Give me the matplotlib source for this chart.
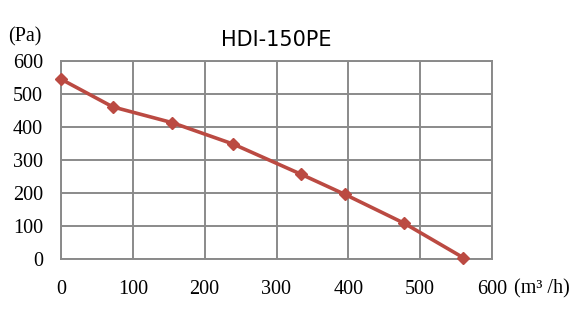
import matplotlib.pyplot as plt

# airflow (m3/h) vs static pressure (Pa)
flow = [0, 72, 155, 240, 334, 395, 478, 560]
pressure = [545, 461, 413, 348, 257, 196, 108, 4]
ticks = [0, 100, 200, 300, 400, 500, 600]

fig = plt.figure(figsize=(5.8, 3.2), dpi=100)
ax = fig.add_axes([61 / 580, 1 - 259 / 320, 431 / 580, 198 / 320])

ax.plot(flow, pressure, color='#BB4A42', lw=2.6, marker='D', ms=6.5,
        markeredgecolor='#BB4A42', zorder=3, clip_on=False)

ax.set_xlim(0, 600)
ax.set_ylim(0, 600)
ax.set_xticks(ticks)
ax.set_yticks(ticks)
ax.grid(True, color='#8a8a8a', lw=1.4)
for s in ax.spines.values():
    s.set_color('#8a8a8a')
    s.set_linewidth(1.4)
ax.tick_params(length=0, labelsize=14.5)
for lab in ax.get_xticklabels() + ax.get_yticklabels():
    lab.set_fontfamily('Liberation Serif')
ax.tick_params(axis='y', pad=13)
ax.tick_params(axis='x', pad=15)

fig.text(276 / 580, 1 - 40 / 320, 'HDI-150PE', ha='center', va='center',
         fontsize=15, family='DejaVu Sans')
fig.text(25 / 580, 1 - 37 / 320, '(Pa)', ha='center', va='center',
         fontsize=14.5, family='Liberation Serif')
fig.text(514 / 580, 1 - 289 / 320, '(m³ /h)', ha='left', va='center',
         fontsize=14.5, family='Liberation Serif')

fig.savefig('out.png', dpi=100, facecolor='white')
